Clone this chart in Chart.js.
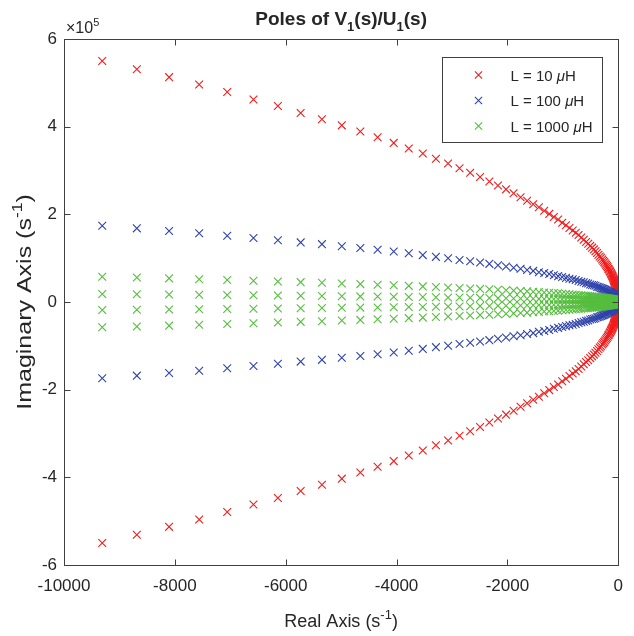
<!DOCTYPE html>
<html>
<head>
<meta charset="utf-8">
<title>Poles of V1(s)/U1(s)</title>
<script src="https://cdn.jsdelivr.net/npm/chart.js@4.4.1/dist/chart.umd.min.js"></script>
<style>
  html, body { margin: 0; padding: 0; background: #fff; }
  #poles { display: block; }
</style>
</head>
<body>
<canvas id="poles" width="634" height="636"></canvas>
<script>
// Datos (parte real en s^-1, parte imaginaria en unidades de 1e5 s^-1)
const realParts = [
    -9310, -8686, -8104, -7561, -7055, -6582, -6141, -5730, -5346, -4988,
    -4654, -4342, -4051, -3780, -3527, -3290, -3070, -2864, -2672, -2493,
    -2326, -2170, -2025, -1889, -1763, -1645, -1535, -1432, -1336, -1246,
    -1163, -1085, -1012, -944, -881, -822, -767, -716, -668, -623,
    -581, -542, -506, -472, -440, -411, -383, -358, -334, -311,
    -290, -271, -253, -236, -220, -205, -191, -179, -167, -155,
    -145, -135, -126, -118, -110, -103, -96, -89, -83, -78,
    -72, -67, -62, -57, -52, -47, -42, -37, -32, -27,
    -22, -17, -12, -8, -4
];

const imagL10 = [
    5.50, 5.31, 5.13, 4.96, 4.79, 4.62, 4.47, 4.31, 4.17, 4.03,
    3.89, 3.76, 3.63, 3.50, 3.39, 3.27, 3.16, 3.05, 2.95, 2.85,
    2.75, 2.66, 2.57, 2.48, 2.39, 2.31, 2.23, 2.16, 2.08, 2.01,
    1.94, 1.88, 1.81, 1.75, 1.69, 1.63, 1.58, 1.53, 1.47, 1.42,
    1.37, 1.33, 1.28, 1.24, 1.20, 1.16, 1.12, 1.08, 1.04, 1.01,
    0.97, 0.94, 0.91, 0.88, 0.85, 0.82, 0.79, 0.76, 0.74, 0.71,
    0.69, 0.66, 0.64, 0.62, 0.60, 0.58, 0.56, 0.54, 0.52, 0.50,
    0.48, 0.47, 0.45, 0.43, 0.41, 0.39, 0.37, 0.35, 0.32, 0.30,
    0.27, 0.23, 0.20, 0.16, 0.11
];

const imagL100 = [
    1.74, 1.68, 1.62, 1.57, 1.51, 1.46, 1.41, 1.36, 1.32, 1.27,
    1.23, 1.19, 1.15, 1.11, 1.07, 1.03, 1.00, 0.96, 0.93, 0.90,
    0.87, 0.84, 0.81, 0.78, 0.76, 0.73, 0.71, 0.68, 0.66, 0.64,
    0.61, 0.59, 0.57, 0.55, 0.53, 0.52, 0.50, 0.48, 0.46, 0.45,
    0.43, 0.42, 0.40, 0.39, 0.38, 0.37, 0.35, 0.34, 0.33, 0.32,
    0.31, 0.30, 0.29, 0.28, 0.27, 0.26, 0.25, 0.24, 0.23, 0.22,
    0.22, 0.21, 0.20, 0.20, 0.19, 0.18, 0.18, 0.17, 0.16, 0.16,
    0.15, 0.15, 0.14, 0.14, 0.13, 0.12, 0.12, 0.11, 0.10, 0.09,
    0.09, 0.07, 0.06, 0.05, 0.03
];

// L = 1000 uH: dos filas de polos a cada lado del eje real
const imagL1000 = [
    0.578, 0.558, 0.539, 0.521, 0.503, 0.485, 0.469, 0.453, 0.438, 0.423,
    0.408, 0.395, 0.381, 0.368, 0.356, 0.343, 0.332, 0.320, 0.310, 0.299,
    0.289, 0.279, 0.270, 0.260, 0.251, 0.243, 0.234, 0.227, 0.218, 0.211,
    0.204, 0.197, 0.190, 0.184, 0.177, 0.171, 0.166, 0.161, 0.154, 0.149,
    0.144, 0.140, 0.134, 0.130, 0.126, 0.122, 0.118, 0.113, 0.109, 0.106,
    0.102, 0.099, 0.096, 0.092, 0.089, 0.086, 0.083, 0.080, 0.078, 0.075,
    0.072, 0.069, 0.067, 0.065, 0.063, 0.061, 0.059, 0.057, 0.055, 0.053,
    0.050, 0.049, 0.047, 0.045, 0.043, 0.041, 0.039, 0.037, 0.034, 0.032,
    0.028, 0.024, 0.021, 0.017, 0.012
];

const imagL1000Inner = [
    0.182, 0.175, 0.169, 0.164, 0.158, 0.152, 0.148, 0.142, 0.138, 0.133,
    0.128, 0.124, 0.120, 0.116, 0.112, 0.108, 0.104, 0.101, 0.097, 0.094,
    0.091, 0.088, 0.085, 0.082, 0.079, 0.076, 0.074, 0.071, 0.069, 0.066,
    0.064, 0.062, 0.060, 0.058, 0.056, 0.054, 0.052, 0.050, 0.049, 0.047,
    0.045, 0.044, 0.042, 0.041, 0.040, 0.038, 0.037, 0.036, 0.034, 0.033,
    0.032, 0.031, 0.030, 0.029, 0.028, 0.027, 0.026, 0.025, 0.024, 0.023,
    0.023, 0.022, 0.021, 0.020, 0.020, 0.019, 0.018, 0.018, 0.017, 0.017,
    0.016, 0.016, 0.015, 0.014, 0.014, 0.013, 0.012, 0.012, 0.011, 0.010,
    0.009, 0.008, 0.007, 0.005, 0.004
];

const seriesLabels = ['L = 10 μH', 'L = 100 μH', 'L = 1000 μH'];
const xTicks = [-10000, -8000, -6000, -4000, -2000, 0];
const yTicks = [-6, -4, -2, 0, 2, 4, 6];

// Estilos
const seriesColors = ['#f21c1c', '#3044ab', '#55be3e'];
const FONT = "'Liberation Sans', Arial, Helvetica, sans-serif";
const TEXT_COLOR = '#262626';
const AXIS_COLOR = '#404040';

// Polos conjugados: rama superior e inferior
function conjugatePoints(re, im) {
    const upper = re.map((x, i) => ({ x: x, y: im[i] }));
    const lower = re.map((x, i) => ({ x: x, y: -im[i] }));
    return upper.concat(lower);
}

// Texto con subíndices, superíndices y cursiva
function drawRich(ctx, parts, x, y, size, opts = {}) {
    const weight = opts.bold ? 'bold ' : '';
    const fontFor = m => (m === 'it' ? 'italic ' : '') + weight +
        ((m === 'sub' || m === 'sup') ? Math.round(size * 0.7) : size) + 'px ' + FONT;
    let total = 0;
    parts.forEach(([t, m]) => { ctx.font = fontFor(m); total += ctx.measureText(t).width; });
    let cx = opts.align === 'left' ? x : x - total / 2;
    ctx.textAlign = 'left';
    ctx.textBaseline = 'alphabetic';
    parts.forEach(([t, m]) => {
        ctx.font = fontFor(m);
        const dy = m === 'sub' ? size * 0.3 : (m === 'sup' ? -size * 0.45 : 0);
        ctx.fillText(t, cx, y + dy);
        cx += ctx.measureText(t).width;
    });
}

function drawCross(ctx, x, y, r, color) {
    ctx.strokeStyle = color;
    ctx.lineWidth = 1.1;
    ctx.beginPath();
    ctx.moveTo(x - r, y - r); ctx.lineTo(x + r, y + r);
    ctx.moveTo(x - r, y + r); ctx.lineTo(x + r, y - r);
    ctx.stroke();
}

// Caja, ticks hacia dentro, títulos y leyenda estilo MATLAB
const decorPlugin = {
    id: 'decor',
    afterDraw(chart) {
        const { ctx, chartArea: a, scales: { x, y } } = chart;
        ctx.save();

        const L = Math.round(a.left) + 0.5, T = Math.round(a.top) + 0.5;
        const R = Math.round(a.right) + 0.5, B = Math.round(a.bottom) + 0.5;
        ctx.strokeStyle = AXIS_COLOR;
        ctx.lineWidth = 1;
        ctx.strokeRect(L, T, R - L, B - T);

        ctx.beginPath();
        xTicks.forEach(v => {
            const px = Math.round(x.getPixelForValue(v)) + 0.5;
            ctx.moveTo(px, B); ctx.lineTo(px, B - 6);
            ctx.moveTo(px, T); ctx.lineTo(px, T + 6);
        });
        yTicks.forEach(v => {
            const py = Math.round(y.getPixelForValue(v)) + 0.5;
            ctx.moveTo(L, py); ctx.lineTo(L + 6, py);
            ctx.moveTo(R, py); ctx.lineTo(R - 6, py);
        });
        ctx.stroke();

        ctx.fillStyle = TEXT_COLOR;
        const midX = (a.left + a.right) / 2;

        // Título
        drawRich(ctx, [['Poles of V', ''], ['1', 'sub'], ['(s)/U', ''], ['1', 'sub'], ['(s)', '']],
            midX, 25, 19, { bold: true });

        // Factor de escala
        drawRich(ctx, [['×10', ''], ['5', 'sup']], a.left + 2, 33, 16, { align: 'left' });

        // Etiqueta eje X
        drawRich(ctx, [['Real Axis (s', ''], ['-1', 'sup'], [')', '']], midX, 627, 18);

        // Etiqueta eje Y (algo más alargada, como en la figura original)
        ctx.save();
        ctx.translate(31, (a.top + a.bottom) / 2);
        ctx.rotate(-Math.PI / 2);
        ctx.scale(1.25, 1);
        drawRich(ctx, [['Imaginary Axis (s', ''], ['-1', 'sup'], [')', '']], 0, 0, 20);
        ctx.restore();

        // Leyenda
        const bx = Math.round(a.right) - 175.5, by = Math.round(a.top) + 18.5;
        const bw = 160, bh = 85;
        ctx.fillStyle = '#ffffff';
        ctx.fillRect(bx, by, bw, bh);
        ctx.strokeStyle = AXIS_COLOR;
        ctx.strokeRect(bx, by, bw, bh);
        chart.data.datasets.forEach((ds, i) => {
            const ly = by + 17.5 + i * 25.5;
            drawCross(ctx, bx + 36, ly, 3.6, ds.borderColor);
            ctx.fillStyle = TEXT_COLOR;
            const pieces = ds.label.split('μ');
            drawRich(ctx, [[pieces[0], ''], ['μ', 'it'], [pieces[1], '']], bx + 68, ly + 5.5, 15, { align: 'left' });
        });

        ctx.restore();
    }
};

const datasets = [
    {
        label: seriesLabels[0],
        data: conjugatePoints(realParts, imagL10),
        borderColor: seriesColors[0],
        order: 3
    },
    {
        label: seriesLabels[1],
        data: conjugatePoints(realParts, imagL100),
        borderColor: seriesColors[1],
        order: 2
    },
    {
        label: seriesLabels[2],
        data: conjugatePoints(realParts, imagL1000).concat(conjugatePoints(realParts, imagL1000Inner)),
        borderColor: seriesColors[2],
        order: 1
    }
].map(ds => ({
    ...ds,
    showLine: false,
    backgroundColor: 'transparent',
    pointStyle: 'crossRot',
    pointRadius: 5.5,
    pointHoverRadius: 5.5,
    borderWidth: 1.1
}));

const ctx = document.getElementById('poles').getContext('2d');
const polesChart = new Chart(ctx, {
    type: 'scatter',
    data: { datasets: datasets },
    options: {
        responsive: false,
        animation: false,
        devicePixelRatio: 1,
        events: [],
        layout: { padding: { left: 0, right: 15, top: 39, bottom: 0 } },
        plugins: {
            legend: { display: false },
            tooltip: { enabled: false },
            title: { display: false }
        },
        scales: {
            x: {
                type: 'linear',
                min: -10000,
                max: 0,
                afterBuildTicks: s => { s.ticks = xTicks.map(v => ({ value: v })); },
                afterFit: s => { s.height = 71; },
                grid: { display: false, drawTicks: false },
                border: { display: false },
                ticks: {
                    padding: 11,
                    color: TEXT_COLOR,
                    font: { family: FONT, size: 17 },
                    maxRotation: 0,
                    callback: v => String(v)
                }
            },
            y: {
                type: 'linear',
                min: -6,
                max: 6,
                afterBuildTicks: s => { s.ticks = yTicks.map(v => ({ value: v })); },
                afterFit: s => { s.width = 64; },
                grid: { display: false, drawTicks: false },
                border: { display: false },
                ticks: {
                    padding: 7,
                    color: TEXT_COLOR,
                    font: { family: FONT, size: 17 },
                    callback: v => String(v)
                }
            }
        }
    },
    plugins: [decorPlugin]
});
</script>
</body>
</html>
